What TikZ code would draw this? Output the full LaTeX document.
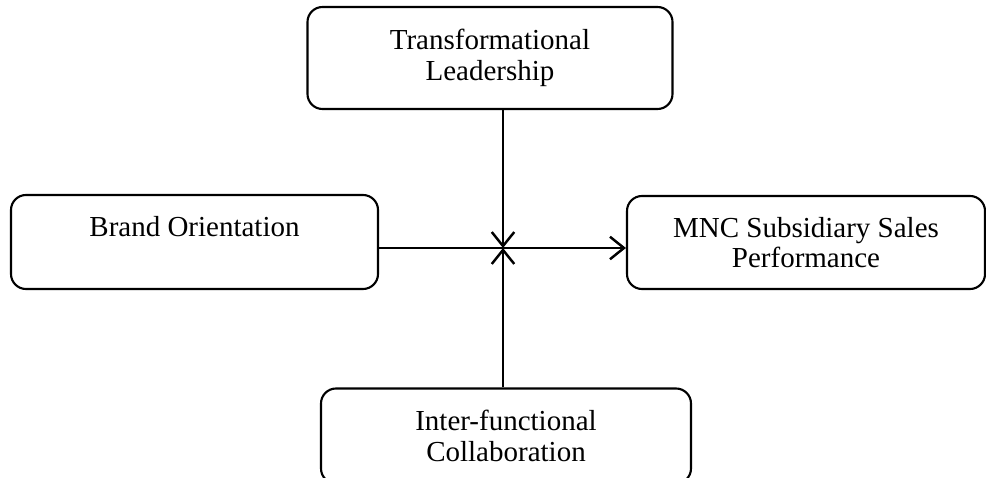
\documentclass[tikz,border=0pt]{standalone}
\usepackage{fontspec}
\setmainfont{Liberation Serif}
\usetikzlibrary{positioning,arrows.meta}

\tikzset{
  factor/.style={draw,line width=1.2pt,rounded corners=0.3cm,align=center,
    minimum width=7.3cm,minimum height=1.9cm,
    font=\fontsize{16.5}{17.5}\selectfont},
  link/.style={line width=1.4pt,-{Straight Barb[length=0.28cm,width=0.45cm,line width=1.4pt]}}
}

\begin{document}
\begin{tikzpicture}
  \useasboundingbox (0,0) rectangle (19.72,-9.56);

  \node[factor,minimum height=2.04cm] (lead) at (9.8,-1.16) {Transformational\\Leadership};
  \node[factor,minimum width=7.34cm,minimum height=1.88cm] (brand) at (3.89,-4.84) {Brand Orientation\\\mbox{}};
  \node[factor,minimum width=7.16cm,minimum height=1.86cm] (mnc) at (16.12,-4.85) {MNC Subsidiary Sales\\Performance};
  \node[factor,minimum width=7.4cm,minimum height=1.9cm] (collab) at (10.12,-8.72) {Inter-functional\\Collaboration};

  \coordinate (hub) at (10.06,-4.96);

  \draw[link] (lead.south -| hub) -- (hub);
  \draw[link] (collab.north -| hub) -- (hub);
  \draw[link] (brand.east |- hub) -- (mnc.west |- hub);
\end{tikzpicture}
\end{document}
